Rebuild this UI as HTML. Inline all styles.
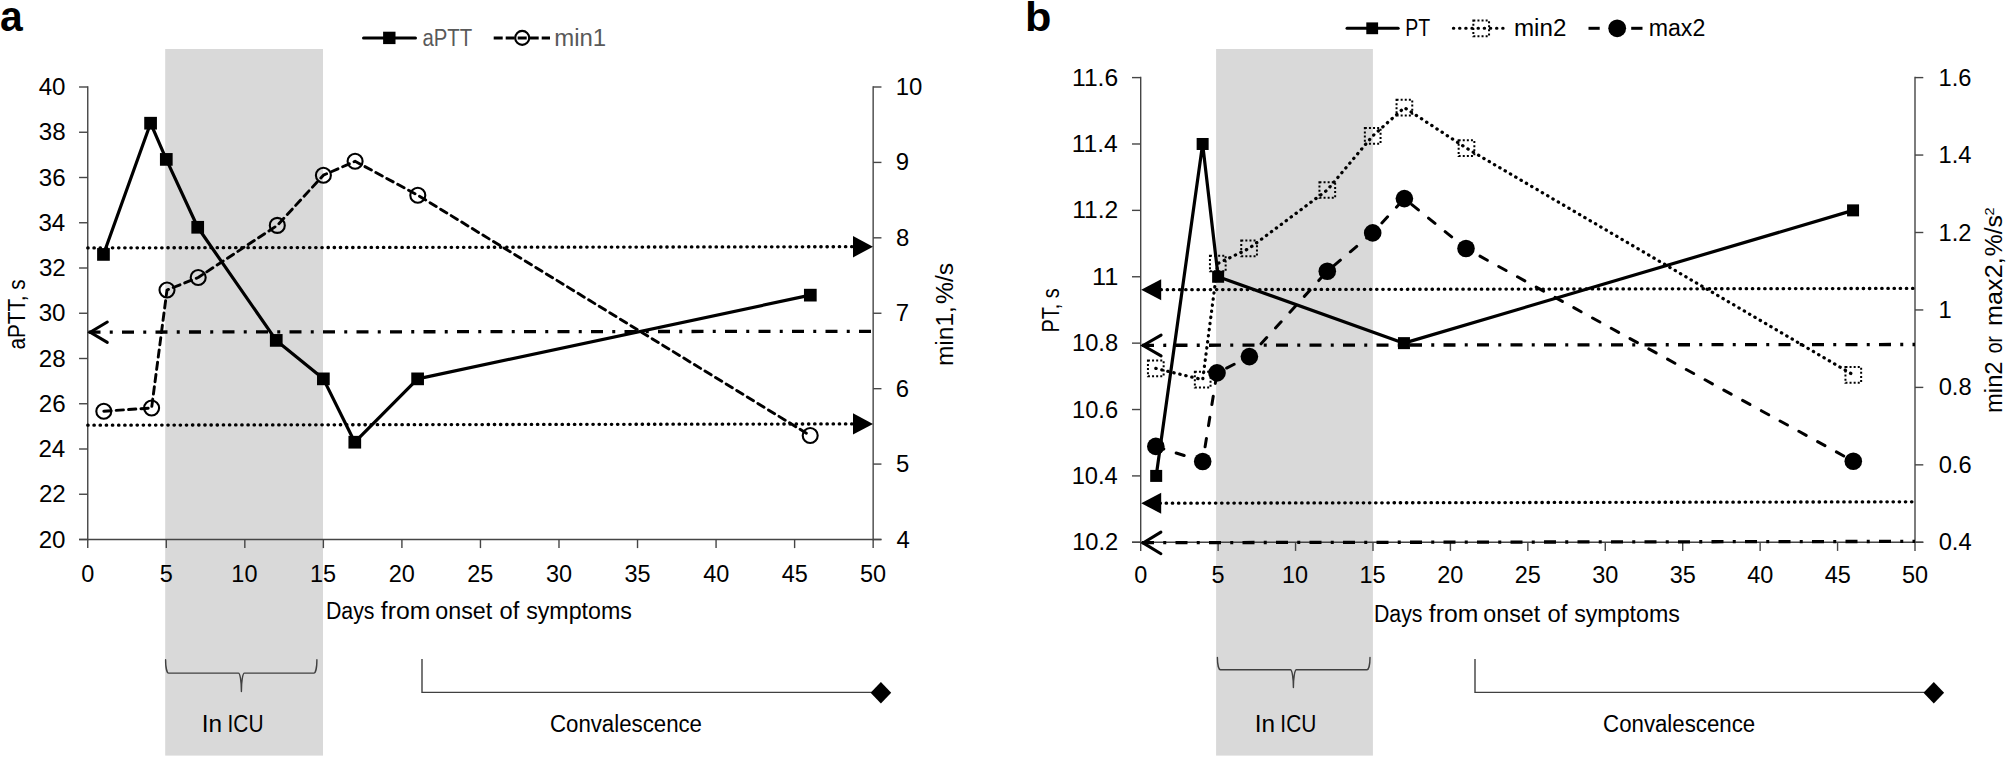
<!DOCTYPE html>
<html lang="en"><head><meta charset="utf-8"><title>Figure</title>
<style>html,body{margin:0;padding:0;background:#fff;overflow:hidden}svg{display:block}</style>
</head><body>
<svg width="2007" height="758" viewBox="0 0 2007 758">
<rect width="2007" height="758" fill="#fff"/>
<!-- panel a -->
<text x="0.00" y="30.90" font-size="43" font-family="'Liberation Sans', sans-serif" font-weight="bold" fill="#000" textLength="22.74" lengthAdjust="spacingAndGlyphs">a</text>
<rect x="165.2" y="49" width="157.8" height="706.6" fill="#d9d9d9"/>
<g stroke="#454545" stroke-width="1.4" fill="none">
<line x1="87.75" y1="86.25" x2="87.75" y2="540.25"/>
<line x1="873.15" y1="86.25" x2="873.15" y2="540.25"/>
<line x1="79.05" y1="539.5" x2="881.4499999999999" y2="539.5"/>
<line x1="79.05" y1="87.00" x2="87.75" y2="87.00"/>
<line x1="79.05" y1="132.25" x2="87.75" y2="132.25"/>
<line x1="79.05" y1="177.50" x2="87.75" y2="177.50"/>
<line x1="79.05" y1="222.75" x2="87.75" y2="222.75"/>
<line x1="79.05" y1="268.00" x2="87.75" y2="268.00"/>
<line x1="79.05" y1="313.25" x2="87.75" y2="313.25"/>
<line x1="79.05" y1="358.50" x2="87.75" y2="358.50"/>
<line x1="79.05" y1="403.75" x2="87.75" y2="403.75"/>
<line x1="79.05" y1="449.00" x2="87.75" y2="449.00"/>
<line x1="79.05" y1="494.25" x2="87.75" y2="494.25"/>
<line x1="79.05" y1="539.50" x2="87.75" y2="539.50"/>
<line x1="873.15" y1="87.00" x2="881.4499999999999" y2="87.00"/>
<line x1="873.15" y1="162.42" x2="881.4499999999999" y2="162.42"/>
<line x1="873.15" y1="237.83" x2="881.4499999999999" y2="237.83"/>
<line x1="873.15" y1="313.25" x2="881.4499999999999" y2="313.25"/>
<line x1="873.15" y1="388.67" x2="881.4499999999999" y2="388.67"/>
<line x1="873.15" y1="464.08" x2="881.4499999999999" y2="464.08"/>
<line x1="873.15" y1="539.50" x2="881.4499999999999" y2="539.50"/>
<line x1="87.75" y1="539.5" x2="87.75" y2="548.1"/>
<line x1="166.29" y1="539.5" x2="166.29" y2="548.1"/>
<line x1="244.83" y1="539.5" x2="244.83" y2="548.1"/>
<line x1="323.37" y1="539.5" x2="323.37" y2="548.1"/>
<line x1="401.91" y1="539.5" x2="401.91" y2="548.1"/>
<line x1="480.45" y1="539.5" x2="480.45" y2="548.1"/>
<line x1="558.99" y1="539.5" x2="558.99" y2="548.1"/>
<line x1="637.53" y1="539.5" x2="637.53" y2="548.1"/>
<line x1="716.07" y1="539.5" x2="716.07" y2="548.1"/>
<line x1="794.61" y1="539.5" x2="794.61" y2="548.1"/>
<line x1="873.15" y1="539.5" x2="873.15" y2="548.1"/>
</g>
<text x="38.68" y="95.00" font-size="23" font-family="'Liberation Sans', sans-serif" fill="#000" textLength="26.86" lengthAdjust="spacingAndGlyphs">40</text>
<text x="38.79" y="140.25" font-size="23" font-family="'Liberation Sans', sans-serif" fill="#000" textLength="26.86" lengthAdjust="spacingAndGlyphs">38</text>
<text x="38.80" y="185.50" font-size="23" font-family="'Liberation Sans', sans-serif" fill="#000" textLength="26.86" lengthAdjust="spacingAndGlyphs">36</text>
<text x="38.45" y="230.75" font-size="23" font-family="'Liberation Sans', sans-serif" fill="#000" textLength="26.86" lengthAdjust="spacingAndGlyphs">34</text>
<text x="38.95" y="276.00" font-size="23" font-family="'Liberation Sans', sans-serif" fill="#000" textLength="26.86" lengthAdjust="spacingAndGlyphs">32</text>
<text x="38.68" y="321.25" font-size="23" font-family="'Liberation Sans', sans-serif" fill="#000" textLength="26.86" lengthAdjust="spacingAndGlyphs">30</text>
<text x="38.79" y="366.50" font-size="23" font-family="'Liberation Sans', sans-serif" fill="#000" textLength="26.86" lengthAdjust="spacingAndGlyphs">28</text>
<text x="38.80" y="411.75" font-size="23" font-family="'Liberation Sans', sans-serif" fill="#000" textLength="26.86" lengthAdjust="spacingAndGlyphs">26</text>
<text x="38.45" y="457.00" font-size="23" font-family="'Liberation Sans', sans-serif" fill="#000" textLength="26.86" lengthAdjust="spacingAndGlyphs">24</text>
<text x="38.95" y="502.25" font-size="23" font-family="'Liberation Sans', sans-serif" fill="#000" textLength="26.86" lengthAdjust="spacingAndGlyphs">22</text>
<text x="38.68" y="547.50" font-size="23" font-family="'Liberation Sans', sans-serif" fill="#000" textLength="26.86" lengthAdjust="spacingAndGlyphs">20</text>
<text x="895.78" y="95.00" font-size="23" font-family="'Liberation Sans', sans-serif" fill="#000" textLength="26.61" lengthAdjust="spacingAndGlyphs">10</text>
<text x="895.88" y="170.42" font-size="23" font-family="'Liberation Sans', sans-serif" fill="#000" textLength="13.30" lengthAdjust="spacingAndGlyphs">9</text>
<text x="895.96" y="245.83" font-size="23" font-family="'Liberation Sans', sans-serif" fill="#000" textLength="13.30" lengthAdjust="spacingAndGlyphs">8</text>
<text x="895.77" y="321.25" font-size="23" font-family="'Liberation Sans', sans-serif" fill="#000" textLength="13.30" lengthAdjust="spacingAndGlyphs">7</text>
<text x="895.79" y="396.67" font-size="23" font-family="'Liberation Sans', sans-serif" fill="#000" textLength="13.30" lengthAdjust="spacingAndGlyphs">6</text>
<text x="896.04" y="472.08" font-size="23" font-family="'Liberation Sans', sans-serif" fill="#000" textLength="13.30" lengthAdjust="spacingAndGlyphs">5</text>
<text x="896.45" y="547.50" font-size="23" font-family="'Liberation Sans', sans-serif" fill="#000" textLength="13.30" lengthAdjust="spacingAndGlyphs">4</text>
<text x="81.23" y="581.60" font-size="23" font-family="'Liberation Sans', sans-serif" fill="#000" textLength="13.05" lengthAdjust="spacingAndGlyphs">0</text>
<text x="159.79" y="581.60" font-size="23" font-family="'Liberation Sans', sans-serif" fill="#000" textLength="13.05" lengthAdjust="spacingAndGlyphs">5</text>
<text x="231.35" y="581.60" font-size="23" font-family="'Liberation Sans', sans-serif" fill="#000" textLength="26.09" lengthAdjust="spacingAndGlyphs">10</text>
<text x="309.92" y="581.60" font-size="23" font-family="'Liberation Sans', sans-serif" fill="#000" textLength="26.09" lengthAdjust="spacingAndGlyphs">15</text>
<text x="388.73" y="581.60" font-size="23" font-family="'Liberation Sans', sans-serif" fill="#000" textLength="26.09" lengthAdjust="spacingAndGlyphs">20</text>
<text x="467.31" y="581.60" font-size="23" font-family="'Liberation Sans', sans-serif" fill="#000" textLength="26.09" lengthAdjust="spacingAndGlyphs">25</text>
<text x="545.95" y="581.60" font-size="23" font-family="'Liberation Sans', sans-serif" fill="#000" textLength="26.09" lengthAdjust="spacingAndGlyphs">30</text>
<text x="624.53" y="581.60" font-size="23" font-family="'Liberation Sans', sans-serif" fill="#000" textLength="26.09" lengthAdjust="spacingAndGlyphs">35</text>
<text x="703.21" y="581.60" font-size="23" font-family="'Liberation Sans', sans-serif" fill="#000" textLength="26.09" lengthAdjust="spacingAndGlyphs">40</text>
<text x="781.79" y="581.60" font-size="23" font-family="'Liberation Sans', sans-serif" fill="#000" textLength="26.09" lengthAdjust="spacingAndGlyphs">45</text>
<text x="860.09" y="581.60" font-size="23" font-family="'Liberation Sans', sans-serif" fill="#000" textLength="26.09" lengthAdjust="spacingAndGlyphs">50</text>
<text x="325.95" y="618.80" font-size="23" font-family="'Liberation Sans', sans-serif" fill="#000" textLength="48.52" lengthAdjust="spacingAndGlyphs">Days</text>
<text x="380.85" y="618.80" font-size="23" font-family="'Liberation Sans', sans-serif" fill="#000" textLength="49.48" lengthAdjust="spacingAndGlyphs">from</text>
<text x="435.32" y="618.80" font-size="23" font-family="'Liberation Sans', sans-serif" fill="#000" textLength="56.85" lengthAdjust="spacingAndGlyphs">onset</text>
<text x="499.51" y="618.80" font-size="23" font-family="'Liberation Sans', sans-serif" fill="#000" textLength="19.76" lengthAdjust="spacingAndGlyphs">of</text>
<text x="526.15" y="618.80" font-size="23" font-family="'Liberation Sans', sans-serif" fill="#000" textLength="105.79" lengthAdjust="spacingAndGlyphs">symptoms</text>
<text transform="translate(25.30,348.60) rotate(-90)" x="-0.85" y="0" font-size="23" font-family="'Liberation Sans', sans-serif" fill="#000" textLength="70.07" lengthAdjust="spacingAndGlyphs">aPTT, s</text>
<text transform="translate(953.40,364.50) rotate(-90)" x="-1.63" y="0" font-size="23" font-family="'Liberation Sans', sans-serif" fill="#000" textLength="60.04" lengthAdjust="spacingAndGlyphs">min1,</text>
<text transform="translate(953.40,364.50) rotate(-90)" x="60.52" y="0" font-size="23" font-family="'Liberation Sans', sans-serif" fill="#000" textLength="41.17" lengthAdjust="spacingAndGlyphs">%/s</text>
<line x1="87.75" y1="247.90" x2="853.00" y2="246.70" stroke="#000" stroke-width="3.3" stroke-dasharray="0.4 5.76" stroke-linecap="round"/>
<polygon points="853.00,236.00 873.00,246.70 853.00,257.40" fill="#000"/>
<line x1="87.75" y1="425.20" x2="854.00" y2="423.90" stroke="#000" stroke-width="3.3" stroke-dasharray="0.4 5.76" stroke-linecap="round"/>
<polygon points="853.00,413.20 873.00,423.90 853.00,434.60" fill="#000"/>
<line x1="88.50" y1="332.10" x2="873.15" y2="331.30" stroke="#000" stroke-width="3.3" stroke-dasharray="12 9.25 3 9.25"/>
<polyline points="107.30,322.00 90.20,332.20 107.30,342.40" fill="none" stroke="#000" stroke-width="3" stroke-linecap="round" stroke-linejoin="miter" stroke-miterlimit="10"/>
<polyline points="103.46,254.42 150.58,123.20 166.29,159.40 197.71,227.28 276.25,340.40 323.37,378.86 354.79,442.21 417.62,378.86 810.32,295.15" fill="none" stroke="#000" stroke-width="3.2" stroke-linejoin="round" stroke-linecap="butt"/>
<rect x="97.11" y="248.07" width="12.7" height="12.7" fill="#000"/>
<rect x="144.23" y="116.85" width="12.7" height="12.7" fill="#000"/>
<rect x="159.94" y="153.05" width="12.7" height="12.7" fill="#000"/>
<rect x="191.36" y="220.93" width="12.7" height="12.7" fill="#000"/>
<rect x="269.90" y="334.05" width="12.7" height="12.7" fill="#000"/>
<rect x="317.02" y="372.51" width="12.7" height="12.7" fill="#000"/>
<rect x="348.44" y="435.86" width="12.7" height="12.7" fill="#000"/>
<rect x="411.27" y="372.51" width="12.7" height="12.7" fill="#000"/>
<rect x="803.97" y="288.80" width="12.7" height="12.7" fill="#000"/>
<polyline points="103.80,411.20 151.60,408.00 167.00,290.00 198.20,277.50 277.30,225.40 323.40,175.20 355.10,161.30 417.80,195.20 810.20,435.50" fill="none" stroke="#000" stroke-width="2.9" stroke-linejoin="round" stroke-linecap="round" stroke-dasharray="7.3 5.1"/>
<circle cx="103.80" cy="411.20" r="7.5" fill="none" stroke="#000" stroke-width="2.1"/>
<circle cx="151.60" cy="408.00" r="7.5" fill="none" stroke="#000" stroke-width="2.1"/>
<circle cx="167.00" cy="290.00" r="7.5" fill="none" stroke="#000" stroke-width="2.1"/>
<circle cx="198.20" cy="277.50" r="7.5" fill="none" stroke="#000" stroke-width="2.1"/>
<circle cx="277.30" cy="225.40" r="7.5" fill="none" stroke="#000" stroke-width="2.1"/>
<circle cx="323.40" cy="175.20" r="7.5" fill="none" stroke="#000" stroke-width="2.1"/>
<circle cx="355.10" cy="161.30" r="7.5" fill="none" stroke="#000" stroke-width="2.1"/>
<circle cx="417.80" cy="195.20" r="7.5" fill="none" stroke="#000" stroke-width="2.1"/>
<circle cx="810.20" cy="435.50" r="7.5" fill="none" stroke="#000" stroke-width="2.1"/>
<line x1="363.5" y1="37.9" x2="415.5" y2="37.9" stroke="#000" stroke-width="3" stroke-linecap="round"/>
<rect x="383.10" y="31.70" width="12.4" height="12.4" fill="#000"/>
<text x="422.43" y="45.50" font-size="23" font-family="'Liberation Sans', sans-serif" fill="#595959" textLength="49.83" lengthAdjust="spacingAndGlyphs">aPTT</text>
<line x1="493.7" y1="37.9" x2="550" y2="37.9" stroke="#000" stroke-width="3" stroke-dasharray="9 3"/>
<circle cx="522.20" cy="37.90" r="7.0" fill="none" stroke="#000" stroke-width="2.1"/>
<text x="554.21" y="45.50" font-size="23" font-family="'Liberation Sans', sans-serif" fill="#595959" textLength="51.96" lengthAdjust="spacingAndGlyphs">min1</text>
<path d="M165.60,659.80 A3.0 13.30 0 0 0 168.60,673.10 L238.40,673.10 A3.0 18.40 0 0 1 241.40,691.50 A3.0 18.40 0 0 1 244.40,673.10 L313.90,673.10 A3.0 13.30 0 0 0 316.90,659.80" fill="none" stroke="#404040" stroke-width="1.4" stroke-linecap="round" stroke-linejoin="round"/>
<text x="201.85" y="731.80" font-size="23" font-family="'Liberation Sans', sans-serif" fill="#000" textLength="20.33" lengthAdjust="spacingAndGlyphs">In</text>
<text x="227.57" y="731.80" font-size="23" font-family="'Liberation Sans', sans-serif" fill="#000" textLength="35.94" lengthAdjust="spacingAndGlyphs">ICU</text>
<polyline points="422.00,659.10 422.00,692.40 872.00,692.40" fill="none" stroke="#404040" stroke-width="1.4"/>
<polygon points="870.60,692.70 880.90,681.90 891.20,692.70 880.90,703.50" fill="#000"/>
<text x="549.97" y="731.70" font-size="23" font-family="'Liberation Sans', sans-serif" fill="#000" textLength="152.02" lengthAdjust="spacingAndGlyphs">Convalescence</text>
<!-- panel b -->
<text x="1024.95" y="30.90" font-size="41.5" font-family="'Liberation Sans', sans-serif" font-weight="bold" fill="#000" textLength="26.43" lengthAdjust="spacingAndGlyphs">b</text>
<rect x="1216.1" y="49" width="156.8" height="706.6" fill="#d9d9d9"/>
<g stroke="#454545" stroke-width="1.4" fill="none">
<line x1="1140.7" y1="76.85" x2="1140.7" y2="543.05"/>
<line x1="1915.0" y1="76.85" x2="1915.0" y2="543.05"/>
<line x1="1132.0" y1="542.3" x2="1923.3" y2="542.3"/>
<line x1="1132.0" y1="77.60" x2="1140.7" y2="77.60"/>
<line x1="1132.0" y1="143.99" x2="1140.7" y2="143.99"/>
<line x1="1132.0" y1="210.37" x2="1140.7" y2="210.37"/>
<line x1="1132.0" y1="276.76" x2="1140.7" y2="276.76"/>
<line x1="1132.0" y1="343.14" x2="1140.7" y2="343.14"/>
<line x1="1132.0" y1="409.53" x2="1140.7" y2="409.53"/>
<line x1="1132.0" y1="475.91" x2="1140.7" y2="475.91"/>
<line x1="1132.0" y1="542.30" x2="1140.7" y2="542.30"/>
<line x1="1915.0" y1="77.60" x2="1923.3" y2="77.60"/>
<line x1="1915.0" y1="155.05" x2="1923.3" y2="155.05"/>
<line x1="1915.0" y1="232.50" x2="1923.3" y2="232.50"/>
<line x1="1915.0" y1="309.95" x2="1923.3" y2="309.95"/>
<line x1="1915.0" y1="387.40" x2="1923.3" y2="387.40"/>
<line x1="1915.0" y1="464.85" x2="1923.3" y2="464.85"/>
<line x1="1915.0" y1="542.30" x2="1923.3" y2="542.30"/>
<line x1="1140.70" y1="542.3" x2="1140.70" y2="550.9"/>
<line x1="1218.13" y1="542.3" x2="1218.13" y2="550.9"/>
<line x1="1295.56" y1="542.3" x2="1295.56" y2="550.9"/>
<line x1="1372.99" y1="542.3" x2="1372.99" y2="550.9"/>
<line x1="1450.42" y1="542.3" x2="1450.42" y2="550.9"/>
<line x1="1527.85" y1="542.3" x2="1527.85" y2="550.9"/>
<line x1="1605.28" y1="542.3" x2="1605.28" y2="550.9"/>
<line x1="1682.71" y1="542.3" x2="1682.71" y2="550.9"/>
<line x1="1760.14" y1="542.3" x2="1760.14" y2="550.9"/>
<line x1="1837.57" y1="542.3" x2="1837.57" y2="550.9"/>
<line x1="1915.00" y1="542.3" x2="1915.00" y2="550.9"/>
</g>
<text x="1072.03" y="85.60" font-size="23" font-family="'Liberation Sans', sans-serif" fill="#000" textLength="46.11" lengthAdjust="spacingAndGlyphs">11.6</text>
<text x="1071.69" y="151.99" font-size="23" font-family="'Liberation Sans', sans-serif" fill="#000" textLength="46.11" lengthAdjust="spacingAndGlyphs">11.4</text>
<text x="1072.18" y="218.37" font-size="23" font-family="'Liberation Sans', sans-serif" fill="#000" textLength="46.11" lengthAdjust="spacingAndGlyphs">11.2</text>
<text x="1091.91" y="284.76" font-size="23" font-family="'Liberation Sans', sans-serif" fill="#000" textLength="26.35" lengthAdjust="spacingAndGlyphs">11</text>
<text x="1072.02" y="351.14" font-size="23" font-family="'Liberation Sans', sans-serif" fill="#000" textLength="46.11" lengthAdjust="spacingAndGlyphs">10.8</text>
<text x="1072.03" y="417.53" font-size="23" font-family="'Liberation Sans', sans-serif" fill="#000" textLength="46.11" lengthAdjust="spacingAndGlyphs">10.6</text>
<text x="1071.69" y="483.91" font-size="23" font-family="'Liberation Sans', sans-serif" fill="#000" textLength="46.11" lengthAdjust="spacingAndGlyphs">10.4</text>
<text x="1072.18" y="550.30" font-size="23" font-family="'Liberation Sans', sans-serif" fill="#000" textLength="46.11" lengthAdjust="spacingAndGlyphs">10.2</text>
<text x="1938.60" y="85.60" font-size="23" font-family="'Liberation Sans', sans-serif" fill="#000" textLength="32.93" lengthAdjust="spacingAndGlyphs">1.6</text>
<text x="1938.60" y="163.05" font-size="23" font-family="'Liberation Sans', sans-serif" fill="#000" textLength="32.93" lengthAdjust="spacingAndGlyphs">1.4</text>
<text x="1938.60" y="240.50" font-size="23" font-family="'Liberation Sans', sans-serif" fill="#000" textLength="32.93" lengthAdjust="spacingAndGlyphs">1.2</text>
<text x="1938.60" y="317.95" font-size="23" font-family="'Liberation Sans', sans-serif" fill="#000" textLength="13.18" lengthAdjust="spacingAndGlyphs">1</text>
<text x="1938.67" y="395.40" font-size="23" font-family="'Liberation Sans', sans-serif" fill="#000" textLength="32.93" lengthAdjust="spacingAndGlyphs">0.8</text>
<text x="1938.67" y="472.85" font-size="23" font-family="'Liberation Sans', sans-serif" fill="#000" textLength="32.93" lengthAdjust="spacingAndGlyphs">0.6</text>
<text x="1938.67" y="550.30" font-size="23" font-family="'Liberation Sans', sans-serif" fill="#000" textLength="32.93" lengthAdjust="spacingAndGlyphs">0.4</text>
<text x="1134.18" y="582.90" font-size="23" font-family="'Liberation Sans', sans-serif" fill="#000" textLength="13.05" lengthAdjust="spacingAndGlyphs">0</text>
<text x="1211.63" y="582.90" font-size="23" font-family="'Liberation Sans', sans-serif" fill="#000" textLength="13.05" lengthAdjust="spacingAndGlyphs">5</text>
<text x="1282.08" y="582.90" font-size="23" font-family="'Liberation Sans', sans-serif" fill="#000" textLength="26.09" lengthAdjust="spacingAndGlyphs">10</text>
<text x="1359.54" y="582.90" font-size="23" font-family="'Liberation Sans', sans-serif" fill="#000" textLength="26.09" lengthAdjust="spacingAndGlyphs">15</text>
<text x="1437.24" y="582.90" font-size="23" font-family="'Liberation Sans', sans-serif" fill="#000" textLength="26.09" lengthAdjust="spacingAndGlyphs">20</text>
<text x="1514.71" y="582.90" font-size="23" font-family="'Liberation Sans', sans-serif" fill="#000" textLength="26.09" lengthAdjust="spacingAndGlyphs">25</text>
<text x="1592.24" y="582.90" font-size="23" font-family="'Liberation Sans', sans-serif" fill="#000" textLength="26.09" lengthAdjust="spacingAndGlyphs">30</text>
<text x="1669.71" y="582.90" font-size="23" font-family="'Liberation Sans', sans-serif" fill="#000" textLength="26.09" lengthAdjust="spacingAndGlyphs">35</text>
<text x="1747.28" y="582.90" font-size="23" font-family="'Liberation Sans', sans-serif" fill="#000" textLength="26.09" lengthAdjust="spacingAndGlyphs">40</text>
<text x="1824.75" y="582.90" font-size="23" font-family="'Liberation Sans', sans-serif" fill="#000" textLength="26.09" lengthAdjust="spacingAndGlyphs">45</text>
<text x="1901.94" y="582.90" font-size="23" font-family="'Liberation Sans', sans-serif" fill="#000" textLength="26.09" lengthAdjust="spacingAndGlyphs">50</text>
<text x="1373.95" y="621.50" font-size="23" font-family="'Liberation Sans', sans-serif" fill="#000" textLength="48.52" lengthAdjust="spacingAndGlyphs">Days</text>
<text x="1428.85" y="621.50" font-size="23" font-family="'Liberation Sans', sans-serif" fill="#000" textLength="49.48" lengthAdjust="spacingAndGlyphs">from</text>
<text x="1483.32" y="621.50" font-size="23" font-family="'Liberation Sans', sans-serif" fill="#000" textLength="56.85" lengthAdjust="spacingAndGlyphs">onset</text>
<text x="1547.51" y="621.50" font-size="23" font-family="'Liberation Sans', sans-serif" fill="#000" textLength="19.76" lengthAdjust="spacingAndGlyphs">of</text>
<text x="1574.15" y="621.50" font-size="23" font-family="'Liberation Sans', sans-serif" fill="#000" textLength="105.79" lengthAdjust="spacingAndGlyphs">symptoms</text>
<text transform="translate(1058.70,331.00) rotate(-90)" x="-1.56" y="0" font-size="23" font-family="'Liberation Sans', sans-serif" fill="#000" textLength="44.24" lengthAdjust="spacingAndGlyphs">PT, s</text>
<text transform="translate(2001.50,411.40) rotate(-90)" x="-1.58" y="0" font-size="23" font-family="'Liberation Sans', sans-serif" fill="#000" textLength="51.58" lengthAdjust="spacingAndGlyphs">min2</text>
<text transform="translate(2001.50,411.40) rotate(-90)" x="58.19" y="0" font-size="23" font-family="'Liberation Sans', sans-serif" fill="#000" textLength="17.13" lengthAdjust="spacingAndGlyphs">or</text>
<text transform="translate(2001.50,411.40) rotate(-90)" x="85.53" y="0" font-size="23" font-family="'Liberation Sans', sans-serif" fill="#000" textLength="68.53" lengthAdjust="spacingAndGlyphs">max2,</text>
<text transform="translate(2001.50,411.40) rotate(-90)" x="155.22" y="0" font-size="23" font-family="'Liberation Sans', sans-serif" fill="#000" textLength="40.96" lengthAdjust="spacingAndGlyphs">%/s</text>
<text transform="translate(1994.10,214.80) rotate(-90)" x="-0.73" y="0" font-size="13.5" font-family="'Liberation Sans', sans-serif" fill="#000" textLength="8.06" lengthAdjust="spacingAndGlyphs">2</text>
<line x1="1161.00" y1="289.70" x2="1915.00" y2="288.40" stroke="#000" stroke-width="3.3" stroke-dasharray="0.4 5.76" stroke-linecap="round"/>
<polygon points="1161.20,279.30 1141.20,289.80 1161.20,300.30" fill="#000"/>
<line x1="1160.00" y1="503.20" x2="1915.00" y2="501.80" stroke="#000" stroke-width="3.3" stroke-dasharray="0.4 5.76" stroke-linecap="round"/>
<polygon points="1161.20,492.70 1141.20,503.20 1161.20,513.70" fill="#000"/>
<line x1="1142.00" y1="345.30" x2="1915.00" y2="344.50" stroke="#000" stroke-width="3.3" stroke-dasharray="12 9.25 3 9.25"/>
<polyline points="1161.10,335.10 1143.10,345.50 1161.10,355.90" fill="none" stroke="#000" stroke-width="3" stroke-linecap="round" stroke-linejoin="miter" stroke-miterlimit="10"/>
<line x1="1142.00" y1="542.70" x2="1915.00" y2="541.40" stroke="#000" stroke-width="3.3" stroke-dasharray="12 9.25 3 9.25"/>
<polyline points="1160.90,532.10 1143.10,542.90 1160.90,553.70" fill="none" stroke="#000" stroke-width="3" stroke-linecap="round" stroke-linejoin="miter" stroke-miterlimit="10"/>
<polyline points="1156.19,475.91 1202.64,143.99 1218.13,276.76 1403.96,343.14 1853.06,210.37" fill="none" stroke="#000" stroke-width="3.2" stroke-linejoin="round" stroke-linecap="butt"/>
<rect x="1150.19" y="469.91" width="12.0" height="12.0" fill="#000"/>
<rect x="1196.64" y="137.99" width="12.0" height="12.0" fill="#000"/>
<rect x="1212.13" y="270.76" width="12.0" height="12.0" fill="#000"/>
<rect x="1397.96" y="337.14" width="12.0" height="12.0" fill="#000"/>
<rect x="1847.06" y="204.37" width="12.0" height="12.0" fill="#000"/>
<polyline points="1155.80,368.40 1202.70,379.70 1217.80,263.50 1249.10,248.40 1327.30,190.00 1372.70,135.90 1404.40,107.60 1466.50,148.20 1853.30,374.90" fill="none" stroke="#000" stroke-width="3.2" stroke-linejoin="round" stroke-linecap="round" stroke-dasharray="0.4 5.76"/>
<rect x="1147.95" y="360.55" width="15.7" height="15.7" fill="none" stroke="#000" stroke-width="2" stroke-dasharray="2 2.1"/>
<rect x="1194.85" y="371.85" width="15.7" height="15.7" fill="none" stroke="#000" stroke-width="2" stroke-dasharray="2 2.1"/>
<rect x="1209.95" y="255.65" width="15.7" height="15.7" fill="none" stroke="#000" stroke-width="2" stroke-dasharray="2 2.1"/>
<rect x="1241.25" y="240.55" width="15.7" height="15.7" fill="none" stroke="#000" stroke-width="2" stroke-dasharray="2 2.1"/>
<rect x="1319.45" y="182.15" width="15.7" height="15.7" fill="none" stroke="#000" stroke-width="2" stroke-dasharray="2 2.1"/>
<rect x="1364.85" y="128.05" width="15.7" height="15.7" fill="none" stroke="#000" stroke-width="2" stroke-dasharray="2 2.1"/>
<rect x="1396.55" y="99.75" width="15.7" height="15.7" fill="none" stroke="#000" stroke-width="2" stroke-dasharray="2 2.1"/>
<rect x="1458.65" y="140.35" width="15.7" height="15.7" fill="none" stroke="#000" stroke-width="2" stroke-dasharray="2 2.1"/>
<rect x="1845.45" y="367.05" width="15.7" height="15.7" fill="none" stroke="#000" stroke-width="2" stroke-dasharray="2 2.1"/>
<polyline points="1155.80,446.40 1202.70,461.50 1217.00,372.90 1249.40,356.60 1327.30,271.20 1372.70,232.90 1404.40,198.60 1466.00,248.50 1853.30,461.20" fill="none" stroke="#000" stroke-width="3" stroke-linejoin="round" stroke-linecap="round" stroke-dasharray="8.4 13"/>
<circle cx="1155.80" cy="446.40" r="8.8" fill="#000"/>
<circle cx="1202.70" cy="461.50" r="8.8" fill="#000"/>
<circle cx="1217.00" cy="372.90" r="8.8" fill="#000"/>
<circle cx="1249.40" cy="356.60" r="8.8" fill="#000"/>
<circle cx="1327.30" cy="271.20" r="8.8" fill="#000"/>
<circle cx="1372.70" cy="232.90" r="8.8" fill="#000"/>
<circle cx="1404.40" cy="198.60" r="8.8" fill="#000"/>
<circle cx="1466.00" cy="248.50" r="8.8" fill="#000"/>
<circle cx="1853.30" cy="461.20" r="8.8" fill="#000"/>
<line x1="1347" y1="28.3" x2="1398.2" y2="28.3" stroke="#000" stroke-width="3" stroke-linecap="round"/>
<rect x="1366.30" y="22.40" width="11.8" height="11.8" fill="#000"/>
<text x="1405.20" y="35.70" font-size="23" font-family="'Liberation Sans', sans-serif" fill="#000" textLength="24.95" lengthAdjust="spacingAndGlyphs">PT</text>
<line x1="1453.4" y1="28.3" x2="1507.8" y2="28.3" stroke="#000" stroke-width="3.1" stroke-dasharray="0.4 5.76" stroke-linecap="round"/>
<rect x="1473.35" y="20.45" width="15.7" height="15.7" fill="none" stroke="#000" stroke-width="2" stroke-dasharray="2 2.1"/>
<text x="1514.00" y="35.70" font-size="23" font-family="'Liberation Sans', sans-serif" fill="#000" textLength="52.32" lengthAdjust="spacingAndGlyphs">min2</text>
<line x1="1588.5" y1="28.3" x2="1599.7" y2="28.3" stroke="#000" stroke-width="3"/>
<line x1="1631.2" y1="28.3" x2="1642.5" y2="28.3" stroke="#000" stroke-width="3"/>
<circle cx="1617.20" cy="28.30" r="8.9" fill="#000"/>
<text x="1648.66" y="35.70" font-size="23" font-family="'Liberation Sans', sans-serif" fill="#000" textLength="56.60" lengthAdjust="spacingAndGlyphs">max2</text>
<path d="M1217.40,657.50 A3.0 12.30 0 0 0 1220.40,669.80 L1290.40,669.80 A3.0 17.80 0 0 1 1293.40,687.60 A3.0 17.80 0 0 1 1296.40,669.80 L1367.00,669.80 A3.0 12.30 0 0 0 1370.00,657.50" fill="none" stroke="#404040" stroke-width="1.4" stroke-linecap="round" stroke-linejoin="round"/>
<text x="1254.65" y="731.80" font-size="23" font-family="'Liberation Sans', sans-serif" fill="#000" textLength="20.33" lengthAdjust="spacingAndGlyphs">In</text>
<text x="1280.37" y="731.80" font-size="23" font-family="'Liberation Sans', sans-serif" fill="#000" textLength="35.94" lengthAdjust="spacingAndGlyphs">ICU</text>
<polyline points="1475.00,659.10 1475.00,692.40 1925.00,692.40" fill="none" stroke="#404040" stroke-width="1.4"/>
<polygon points="1923.50,692.70 1933.80,681.90 1944.10,692.70 1933.80,703.50" fill="#000"/>
<text x="1603.07" y="731.70" font-size="23" font-family="'Liberation Sans', sans-serif" fill="#000" textLength="152.12" lengthAdjust="spacingAndGlyphs">Convalescence</text>
</svg>
</body></html>
